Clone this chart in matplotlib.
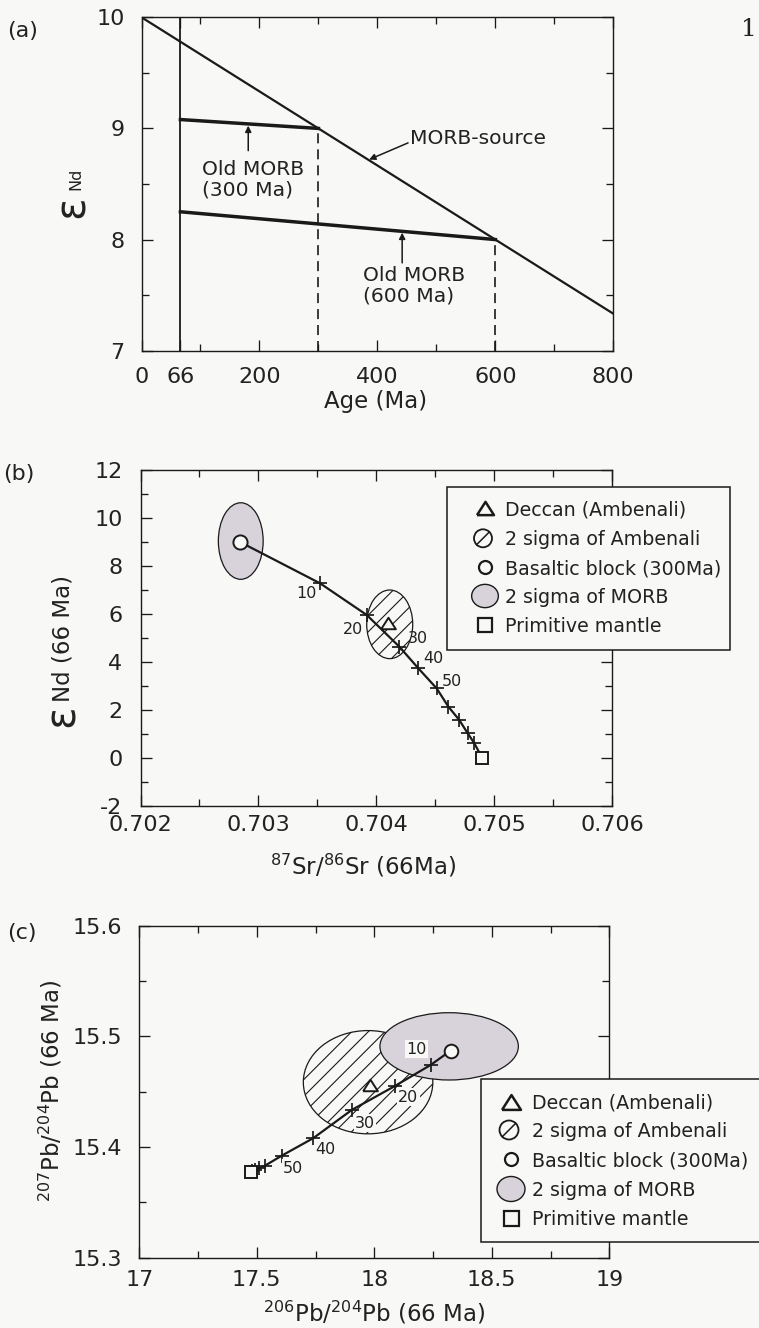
import numpy as np
import matplotlib
matplotlib.use("Agg")
import matplotlib.pyplot as plt
from matplotlib.patches import Ellipse, Rectangle
from matplotlib.lines import Line2D
from matplotlib.ticker import FixedLocator

# ---------------- data ----------------
# (a) epsilon-Nd evolution of the MORB source and of old MORB blocks
source_age = [0, 800]
source_eps = [10.0, 7.333]
old300_age = [66, 300]
old300_eps = [9.08, 9.00]
old600_age = [66, 600]
old600_eps = [8.25, 8.00]
eruption_age = 66
a_xticks = [0, 66, 200, 400, 600, 800]
a_xminor = [100, 300, 500, 700]
a_yticks = [7, 8, 9, 10]
a_yminor = [7.5, 8.5, 9.5]

# (b) Sr-Nd mixing between a 300 Ma basaltic block and primitive mantle
mix_pct = [0, 10, 20, 30, 40, 50, 60, 70, 80, 90, 100]
sr_mix = [0.702844, 0.703522, 0.703918, 0.704194, 0.704355, 0.704511,
          0.704610, 0.704703, 0.704774, 0.704827, 0.704898]
nd_mix = [9.00, 7.28, 5.96, 4.64, 3.74, 2.90, 2.14, 1.58, 1.03, 0.64, 0.00]
deccan_sr_nd = (0.704101, 5.61)
ambenali_sr_nd_2s = (0.704113, 5.57, 0.00039, 2.86)   # centre x, centre y, width, height
morb_sr_nd_2s = (0.702850, 9.04, 0.00038, 3.19)
b_xticks = [0.702, 0.703, 0.704, 0.705, 0.706]
b_xminor = [0.7025, 0.7035, 0.7045, 0.7055]
b_yticks = [-2, 0, 2, 4, 6, 8, 10, 12]
b_yminor = [-1, 1, 3, 5, 7, 9, 11]

# (c) Pb-Pb mixing
pb206_mix = [18.325, 18.240, 18.088, 17.904, 17.740, 17.606,
             17.535, 17.511, 17.492, 17.478, 17.474]
pb207_mix = [15.4869, 15.4740, 15.4550, 15.4333, 15.4078, 15.3920,
             15.3830, 15.3807, 15.3791, 15.3780, 15.3776]
deccan_pb = (17.982, 15.4556)
ambenali_pb_2s = (17.9735, 15.4584, 0.551, 0.0933)
morb_pb_2s = (18.3185, 15.4908, 0.589, 0.0608)
c_xticks = [17, 17.5, 18, 18.5, 19]
c_xminor = [17.25, 17.75, 18.25, 18.75]
c_yticks = [15.3, 15.4, 15.5, 15.6]
c_yminor = [15.35, 15.45, 15.55]

labelled_pct = [10, 20, 30, 40, 50]
legend_labels = ["Deccan (Ambenali)", "2 sigma of Ambenali",
                 "Basaltic block (300Ma)", "2 sigma of MORB", "Primitive mantle"]

# ---------------- style ----------------
W, H, DPI = 759, 1328, 100
INK = "#1a1a1a"
TXT = "#222222"
BG = "#f8f8f7"
MORB_FILL = "#d8d2db"
TICK_FS = 16
NOTE_FS = 14.6
KEY_FS = 13.7
MIX_FS = 11.5
TRI = [(-1, -0.78), (1, -0.78), (0, 0.78), (-1, -0.78)]

plt.rcParams["font.family"] = ["DejaVu Sans"]
plt.rcParams["hatch.linewidth"] = 0.8
plt.rcParams["lines.scale_dashes"] = False

fig = plt.figure(figsize=(W / DPI, H / DPI), dpi=DPI, facecolor=BG)


def fx(x):
    return x / W


def fy(y):
    return 1 - y / H


def ftext(x, y, s, **kw):
    kw.setdefault("color", TXT)
    return fig.text(fx(x), fy(y), s, **kw)


def add_axes_px(l, t, r, b):
    ax = fig.add_axes([fx(l), fy(b), (r - l) / W, (b - t) / H])
    ax.set_facecolor(BG)
    return ax


def fmt(v):
    return f"{v:g}"


def style_axes(ax, xlim, ylim, xt, xm, yt, ym, xpad, ypad):
    ax.set_xlim(xlim)
    ax.set_ylim(ylim)
    ax.set_xticks(xt, labels=[fmt(v) for v in xt])
    ax.set_yticks(yt, labels=[fmt(v) for v in yt])
    ax.xaxis.set_minor_locator(FixedLocator(xm))
    ax.yaxis.set_minor_locator(FixedLocator(ym))
    ax.tick_params(which="both", direction="in", top=True, right=True,
                   color=INK, labelcolor=TXT, labelsize=TICK_FS)
    ax.tick_params(which="major", length=7.9, width=0.95)
    ax.tick_params(which="minor", length=4.8, width=0.95)
    ax.tick_params(axis="x", which="major", pad=xpad)
    ax.tick_params(axis="y", which="major", pad=ypad)
    for s in ax.spines.values():
        s.set_linewidth(1.0)
        s.set_color(INK)


def cross_marks(ax, xs, ys):
    """Plus ticks at every 10 % step between the two end-members."""
    ax.plot(xs[1:-1], ys[1:-1], ls="none", marker="+", ms=10.5,
            mew=1.25, color=INK, zorder=5)


def draw_key(box, mx, tx, rows, tri, hd, cd, mw, mh, sq):
    l, t, r, b = box
    fig.add_artist(Rectangle((fx(l), fy(b)), (r - l) / W, (b - t) / H,
                             transform=fig.transFigure, fc=BG, ec=INK,
                             lw=1.1, zorder=5))
    tf = fig.transFigure
    y0, y1, y2, y3, y4 = rows
    fig.add_artist(Line2D([fx(mx)], [fy(y0)], transform=tf, ls="none",
                          marker=TRI, ms=tri * 0.72, mfc=BG, mec=INK,
                          mew=1.8, zorder=6))
    fig.add_artist(Ellipse((fx(mx - 2), fy(y1)), hd / W, hd / H, transform=tf,
                           fc=BG, ec=INK, lw=1.3, zorder=6))
    k = hd / 2 * 0.707
    fig.add_artist(Line2D([fx(mx - 2 - k), fx(mx - 2 + k)], [fy(y1 + k), fy(y1 - k)],
                          transform=tf, color=INK, lw=1.1, zorder=6))
    fig.add_artist(Line2D([fx(mx)], [fy(y2)], transform=tf, ls="none",
                          marker="o", ms=cd * 0.72, mfc=BG, mec=INK,
                          mew=1.6, zorder=6))
    fig.add_artist(Ellipse((fx(mx), fy(y3)), mw / W, mh / H, transform=tf,
                           fc=MORB_FILL, ec=INK, lw=1.0, zorder=6))
    fig.add_artist(Line2D([fx(mx)], [fy(y4)], transform=tf, ls="none",
                          marker="s", ms=sq * 0.72, mfc=BG, mec=INK,
                          mew=1.6, zorder=6))
    em = KEY_FS * DPI / 72
    for y, lab in zip(rows, legend_labels):
        ftext(tx, y + 0.365 * em, lab, ha="left", va="baseline",
              fontsize=KEY_FS, zorder=7)


# ---------------- (a) ----------------
axa = add_axes_px(141.5, 17.3, 613.3, 350.7)
style_axes(axa, (0, 800), (7, 10), a_xticks, a_xminor, a_yticks, a_yminor,
           xpad=11.4, ypad=12.2)
axa.plot(source_age, source_eps, color=INK, lw=1.6, zorder=3)
axa.plot(old300_age, old300_eps, color=INK, lw=2.5, zorder=3)
axa.plot(old600_age, old600_eps, color=INK, lw=2.5, zorder=3)
axa.axvline(eruption_age, color=INK, lw=1.3, zorder=3)
axa.plot([old300_age[1]] * 2, [7, old300_eps[1]], color=INK, lw=1.2,
         dashes=(7.2, 4.3), zorder=3)
axa.plot([old600_age[1]] * 2, [7, old600_eps[1]], color=INK, lw=1.2,
         dashes=(7.2, 4.3), zorder=3)

arrow = dict(arrowstyle="-|>", color=INK, lw=1.1, mutation_scale=9,
             shrinkA=0, shrinkB=0)
axa.annotate("", xy=(181, 9.025), xytext=(181, 8.80), arrowprops=arrow)
axa.text(102, 8.54, "Old MORB\n(300 Ma)", ha="left", va="center",
         fontsize=NOTE_FS, color=TXT, linespacing=1.12)
axa.annotate("", xy=(386, 8.72), xytext=(452, 8.87), arrowprops=arrow)
axa.text(455, 8.91, "MORB-source", ha="left", va="center",
         fontsize=NOTE_FS, color=TXT)
axa.annotate("", xy=(442, 8.062), xytext=(442, 7.79), arrowprops=arrow)
axa.text(376, 7.585, "Old MORB\n(600 Ma)", ha="left", va="center",
         fontsize=NOTE_FS, color=TXT, linespacing=1.12)

ftext(22.5, 31, "(a)", ha="center", va="center", fontsize=16)
ftext(376, 401.7, "Age (Ma)", ha="center", va="center", fontsize=16.5)
ftext(83.3, 206.7, "\u03b5", rotation=90, rotation_mode="anchor",
      ha="center", va="baseline", fontsize=30)
ftext(80, 178.5, "Nd", rotation=90, rotation_mode="anchor",
      ha="center", va="baseline", fontsize=11.5)
ftext(741, 29, "1", ha="left", va="center", fontsize=18,
      family="DejaVu Serif")

# ---------------- (b) ----------------
axb = add_axes_px(140.5, 470, 612.3, 806)
style_axes(axb, (0.702, 0.706), (-2, 12), b_xticks, b_xminor, b_yticks,
           b_yminor, xpad=6.5, ypad=13.0)
cx, cy, ew, eh = morb_sr_nd_2s
axb.add_patch(Ellipse((cx, cy), ew, eh, fc=MORB_FILL, ec=INK, lw=0.9, zorder=2))
cx, cy, ew, eh = ambenali_sr_nd_2s
axb.add_patch(Ellipse((cx, cy), ew, eh, fc="none", ec=INK, lw=0.9,
                      hatch="//", zorder=2))
axb.plot(sr_mix, nd_mix, color=INK, lw=1.6, zorder=4)
cross_marks(axb, sr_mix, nd_mix)
axb.plot([sr_mix[0]], [nd_mix[0]], ls="none", marker="o", ms=10.2,
         mfc=BG, mec=INK, mew=1.4, zorder=6)
axb.plot([sr_mix[-1]], [nd_mix[-1]], ls="none", marker="s", ms=9.0,
         mfc=BG, mec=INK, mew=1.4, zorder=6)
axb.plot([deccan_sr_nd[0]], [deccan_sr_nd[1]], ls="none", marker=TRI,
         ms=10.6, mfc=BG, mec=INK, mew=1.4, zorder=6)

b_label_xy = [(0.703409, 6.86), (0.703799, 5.36), (0.704355, 4.99),
              (0.704482, 4.15), (0.704638, 3.18)]
for p, (lx, ly) in zip(labelled_pct, b_label_xy):
    axb.text(lx, ly, str(p), ha="center", va="center", fontsize=MIX_FS,
             color=TXT, zorder=7)

draw_key((447.3, 486.7, 730, 650), 485, 505,
         [508.3, 538.3, 567.3, 596, 625],
         tri=17, hd=18, cd=13, mw=26.7, mh=23.3, sq=14)

ftext(19, 474, "(b)", ha="center", va="center", fontsize=16)
ftext(363, 865.7, r"$^{87}$Sr/$^{86}$Sr (66Ma)", ha="center", va="center",
      fontsize=16.5)
ftext(70, 702, "Nd (66 Ma)", rotation=90, rotation_mode="anchor",
      ha="left", va="baseline", fontsize=16.5)
ftext(74, 704, "\u03b5", rotation=90, rotation_mode="anchor",
      ha="right", va="baseline", fontsize=30)

# ---------------- (c) ----------------
axc = add_axes_px(139.3, 925.5, 609.3, 1257.5)
style_axes(axc, (17, 19), (15.3, 15.6), c_xticks, c_xminor, c_yticks,
           c_yminor, xpad=8.8, ypad=12.1)
cx, cy, ew, eh = ambenali_pb_2s
axc.add_patch(Ellipse((cx, cy), ew, eh, fc="none", ec=INK, lw=0.9,
                      hatch="//", zorder=2))
cx, cy, ew, eh = morb_pb_2s
axc.add_patch(Ellipse((cx, cy), ew, eh, fc=MORB_FILL, ec=INK, lw=0.9, zorder=3))
axc.plot(pb206_mix, pb207_mix, color=INK, lw=1.6, zorder=4)
cross_marks(axc, pb206_mix, pb207_mix)
axc.plot([pb206_mix[0]], [pb207_mix[0]], ls="none", marker="o", ms=9.8,
         mfc=BG, mec=INK, mew=1.4, zorder=6)
axc.plot([pb206_mix[-1]], [pb207_mix[-1]], ls="none", marker="s", ms=9.0,
         mfc=BG, mec=INK, mew=1.4, zorder=6)
axc.plot([deccan_pb[0]], [deccan_pb[1]], ls="none", marker=TRI,
         ms=10.6, mfc=BG, mec=INK, mew=1.4, zorder=6)

c_label_xy = [(18.180, 15.4882), (18.145, 15.4448), (17.960, 15.4213),
              (17.790, 15.3978), (17.655, 15.3807)]
for p, (lx, ly) in zip(labelled_pct, c_label_xy):
    axc.text(lx, ly, str(p), ha="center", va="center", fontsize=MIX_FS,
             color=TXT, zorder=7,
             bbox=dict(boxstyle="square,pad=0.08", fc=BG, ec="none"))

draw_key((480.7, 1079.3, 763, 1241.7), 511, 531.7,
         [1101.7, 1130, 1159.3, 1189, 1218.3],
         tri=19, hd=19, cd=13, mw=28, mh=25, sq=15)

ftext(21.5, 933, "(c)", ha="center", va="center", fontsize=16)
ftext(374.3, 1313, r"$^{206}$Pb/$^{204}$Pb (66 Ma)", ha="center",
      va="center", fontsize=16.5)
ftext(59, 1091, r"$^{207}$Pb/$^{204}$Pb (66 Ma)", rotation=90,
      rotation_mode="anchor", ha="center", va="baseline", fontsize=16.5)

fig.savefig("out.png", dpi=DPI, facecolor=BG)
